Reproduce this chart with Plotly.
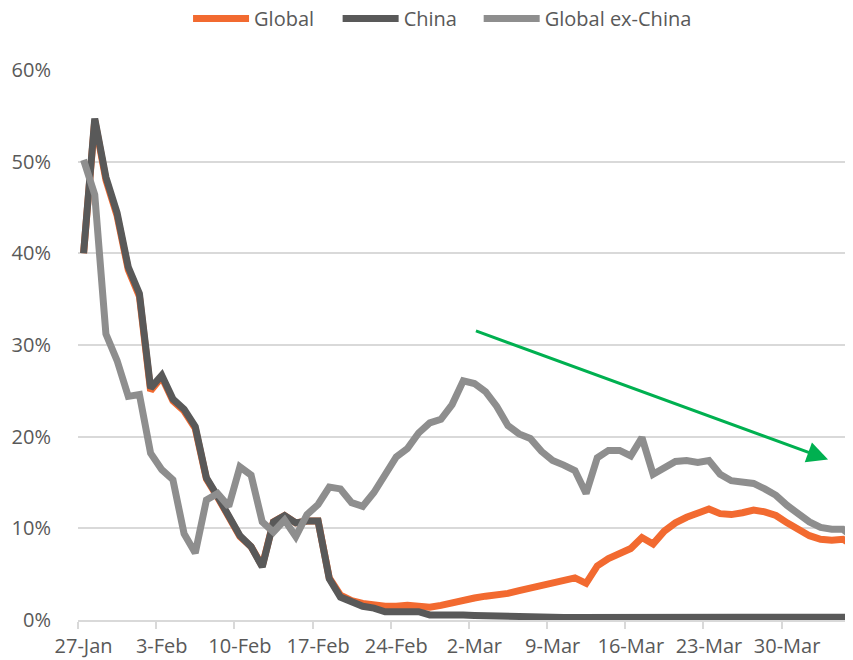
import pandas as pd
import plotly.graph_objects as go

dates = pd.date_range("2020-01-27", periods=70, freq="D")

global_pct = [40.0, 54.5, 48.0, 44.1, 38.2, 35.3, 25.0, 26.5, 23.9, 22.8,
              20.9, 15.4, 13.4, 11.2, 9.1, 8.0, 5.9, 10.7, 11.4, 10.6,
              10.8, 10.8, 4.6, 2.7, 2.1, 1.8, 1.6, 1.5, 1.5, 1.6,
              1.5, 1.4, 1.6, 1.9, 2.2, 2.4, 2.6, 2.7, 2.9, 3.2,
              3.5, 3.7, 4.0, 4.4, 4.6, 4.0, 5.9, 6.7, 7.3, 7.8,
              9.0, 8.3, 9.7, 10.6, 11.2, 11.6, 12.1, 11.6, 11.5, 11.7,
              12.0, 11.8, 11.4, 10.6, 9.8, 9.2, 8.8, 8.7, 8.8, 8.1]

china_pct = [40.0, 54.7, 48.3, 44.4, 38.5, 35.6, 25.3, 26.7, 24.1, 23.0,
             21.1, 15.5, 13.5, 11.3, 9.2, 8.0, 5.8, 10.7, 11.4, 10.6,
             10.8, 10.8, 4.5, 2.5, 1.9, 1.5, 1.3, 0.9, 0.9, 0.9,
             0.9, 0.55, 0.6, 0.6, 0.55, 0.5, 0.45, 0.4, 0.35, 0.3,
             0.3, 0.3, 0.28, 0.27, 0.26, 0.25, 0.25, 0.25, 0.25, 0.25,
             0.25, 0.25, 0.25, 0.25, 0.25, 0.28, 0.3, 0.3, 0.3, 0.3,
             0.3, 0.3, 0.3, 0.3, 0.3, 0.3, 0.3, 0.3, 0.3, 0.3]

ex_china_pct = [50.2, 46.4, 31.2, 28.3, 24.4, 24.6, 18.2, 16.4, 15.3, 9.4,
                7.3, 13.1, 13.8, 12.4, 16.7, 15.8, 10.7, 9.6, 10.9, 9.1,
                11.5, 12.6, 14.5, 14.3, 12.8, 12.4, 13.9, 16.0, 17.8, 18.7,
                20.4, 21.5, 21.9, 23.5, 26.1, 25.8, 24.9, 23.3, 21.2, 20.3,
                19.8, 18.4, 17.4, 16.9, 16.3, 13.8, 17.7, 18.5, 18.5, 17.9,
                19.9, 15.9, 16.7, 17.3, 17.4, 17.2, 17.4, 15.9, 15.2, 15.0,
                14.9, 14.3, 13.6, 12.5, 11.5, 10.7, 10.1, 9.9, 9.9, 8.9]

tick_dates = dates[::7][:10]
tick_labels = ["27-Jan", "3-Feb", "10-Feb", "17-Feb", "24-Feb",
               "2-Mar", "9-Mar", "16-Mar", "23-Mar", "30-Mar"]

series = [("Global", global_pct, "#F26A30", "legend", 0.142),
          ("China", china_pct, "#595959", "legend2", 0.335),
          ("Global ex-China", ex_china_pct, "#8E8E8E", "legend3", 0.517)]

FONT = "Open Sans, Liberation Sans, sans-serif"
TXT = "#595959"
GRID = "#D9D9D9"

fig = go.Figure()
legends = {}
for name, vals, col, leg, lx in series:
    fig.add_trace(go.Scatter(x=dates, y=[v / 100 for v in vals], mode="lines",
                             name=name, legend=leg, line=dict(color=col, width=7)))
    legends[leg] = dict(orientation="h", x=lx, xanchor="left",
                        yref="paper", y=1.129, yanchor="top",
                        font=dict(family=FONT, size=20, color=TXT), itemwidth=56,
                        bgcolor="rgba(0,0,0,0)")

half_day = pd.Timedelta(hours=12)
# green trend arrow
fig.add_annotation(x=pd.Timestamp("2020-04-02 16:00"), y=0.175,
                   ax=pd.Timestamp("2020-03-02 00:00"), ay=0.316,
                   xref="x", yref="y", axref="x", ayref="y",
                   text="", showarrow=True, arrowhead=2, arrowsize=1.4,
                   arrowwidth=3, arrowcolor="#00B050", standoff=0)

fig.update_layout(
    width=845, height=652,
    margin=dict(l=70, r=0, t=62, b=40, autoexpand=False),
    paper_bgcolor="white", plot_bgcolor="white",
    font=dict(family=FONT, size=20, color=TXT),
    showlegend=True,
    xaxis=dict(type="date", automargin=False,
               range=[dates[0] - half_day, dates[0] - half_day + pd.Timedelta(days=69.4)],
               tickvals=tick_dates, ticktext=tick_labels, ticks="",
               ticklabelstandoff=7,
               tickfont=dict(family=FONT, size=20, color=TXT),
               showgrid=False, showline=True, linecolor=GRID, linewidth=2,
               zeroline=False,
               minor=dict(ticks="outside", ticklen=7, tickcolor=GRID, tickwidth=2,
                          tick0=dates[0] - half_day, dtick=7 * 86400000,
                          showgrid=False)),
    yaxis=dict(range=[0, 0.6], tickvals=[0, 0.1, 0.2, 0.3, 0.4, 0.5, 0.6],
               tickformat=".0%", showgrid=True, gridcolor=GRID, gridwidth=2,
               zeroline=False, showline=False, ticks="", automargin=False,
               ticklabelstandoff=26,
               tickfont=dict(family=FONT, size=20, color=TXT)),
    **legends,
)

fig.write_html("out.html")
